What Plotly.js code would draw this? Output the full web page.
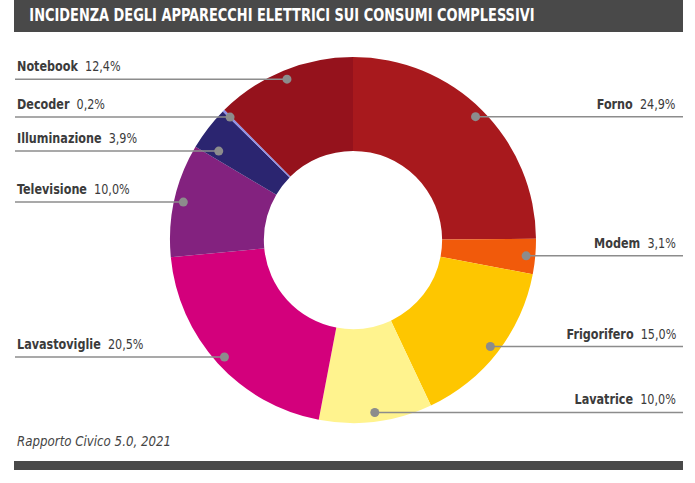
<!DOCTYPE html>
<html>
<head>
<meta charset="utf-8">
<script src="https://cdn.plot.ly/plotly-3.0.1.min.js"></script>
<style>
html,body{margin:0;padding:0;background:#fff;}
#chart{width:695px;height:483px;}
</style>
</head>
<body>
<div id="chart"></div>
<script>
// ---- data ----
var categories = ["Forno", "Modem", "Frigorifero", "Lavatrice", "Lavastoviglie", "Televisione", "Illuminazione", "Decoder", "Notebook"];
var values = [24.9, 3.1, 15.0, 10.0, 20.5, 10.0, 3.9, 0.2, 12.4];
var valueLabels = ["24,9%", "3,1%", "15,0%", "10,0%", "20,5%", "10,0%", "3,9%", "0,2%", "12,4%"];
var colors = ["#a8191d", "#f15a0b", "#fec600", "#fff38e", "#d3007c", "#83227f", "#2b2570", "#8f8fe6", "#95121c"];
var titleText = "INCIDENZA DEGLI APPARECCHI ELETTRICI SUI CONSUMI COMPLESSIVI";
var sourceText = "Rapporto Civico 5.0, 2021";

// ---- layout constants ----
var W = 695, H = 483;
var cx = 353, cy = 240, R = 183;
var FONT = "'DejaVu Sans Condensed', 'Liberation Sans Narrow', sans-serif";
var TXT = "#3b3b3b";
var BAR = "#494949";
var MIN_GAP = 34;

function px(x){ return x / W; }
function py(y){ return 1 - y / H; }

var shapes = [];
var annotations = [];
var squeeze = []; // per annotation: [scale, origin]

// title bar & bottom bar
shapes.push({type:"rect", xref:"paper", yref:"paper", x0:px(14), x1:px(683), y0:py(0), y1:py(32), fillcolor:BAR, line:{width:0}, layer:"below"});
shapes.push({type:"rect", xref:"paper", yref:"paper", x0:px(14), x1:px(683), y0:py(461), y1:py(470), fillcolor:BAR, line:{width:0}, layer:"below"});

annotations.push({xref:"paper", yref:"paper", x:px(27), y:py(14.5), xanchor:"left", yanchor:"middle", showarrow:false,
  text:"<b>"+titleText+"</b>", font:{family:FONT, size:18, color:"#ffffff"}});
squeeze.push([0.8, "left"]);
annotations.push({xref:"paper", yref:"paper", x:px(15), y:py(441), xanchor:"left", yanchor:"middle", showarrow:false,
  text:"<i>"+sourceText+"</i>", font:{family:FONT, size:14, color:"#444444"}});
squeeze.push([0.94, "left"]);

// leader lines, dots and labels derived from the data
var total = values.reduce(function(a,b){return a+b;}, 0);
var items = [];
var cum = 0;
for (var i = 0; i < values.length; i++) {
  var mid = (cum + values[i] / 2) / total * 360;
  cum += values[i];
  var th = mid * Math.PI / 180;
  items.push({i:i, th:th, right: Math.sin(th) > 0,
    dx: cx + 0.95 * R * Math.sin(th), dy: cy - 0.95 * R * Math.cos(th)});
}
// avoid overlapping labels on each side
[true, false].forEach(function(side){
  var s = items.filter(function(d){ return d.right === side; }).sort(function(a,b){ return a.dy - b.dy; });
  for (var k = 1; k < s.length; k++) {
    if (s[k].dy < s[k-1].dy + MIN_GAP) {
      var ny = s[k-1].dy + MIN_GAP;
      var r = 0.88 * R;
      var off = Math.sqrt(Math.max(0, r*r - (ny-cy)*(ny-cy)));
      s[k].dy = ny;
      s[k].dx = side ? cx + off : cx - off;
    }
  }
});

items.forEach(function(d){
  var lx0 = d.right ? d.dx : 15;
  var lx1 = d.right ? 683 : d.dx;
  shapes.push({type:"line", xref:"paper", yref:"paper", x0:px(lx0), x1:px(lx1), y0:py(d.dy), y1:py(d.dy),
    line:{color:"#8c8c8c", width:1.5}});
  shapes.push({type:"circle", xref:"paper", yref:"paper", x0:px(d.dx-4.5), x1:px(d.dx+4.5), y0:py(d.dy-4.5), y1:py(d.dy+4.5),
    fillcolor:"#8c8c8c", line:{width:0}});
  annotations.push({xref:"paper", yref:"paper", x: d.right ? px(678) : px(15), y: py(d.dy - 3),
    xanchor: d.right ? "right" : "left", yanchor:"bottom", showarrow:false,
    text:"<b>"+categories[d.i]+"</b>\u00a0\u00a0"+valueLabels[d.i],
    font:{family:FONT, size:14, color:TXT}});
  squeeze.push([0.89, d.right ? "right" : "left"]);
});

var trace = {
  type:"pie",
  labels:categories,
  values:values,
  sort:false,
  direction:"clockwise",
  rotation:0,
  hole:0.487,
  textinfo:"none",
  hoverinfo:"label+percent",
  marker:{colors:colors, line:{width:0}},
  domain:{x:[px(cx-R), px(cx+R)], y:[py(cy+R), py(cy-R)]},
  showlegend:false
};

var layout = {
  width:W, height:H,
  margin:{l:0, r:0, t:0, b:0},
  paper_bgcolor:"#ffffff",
  showlegend:false,
  shapes:shapes,
  annotations:annotations
};

Plotly.newPlot("chart", [trace], layout, {displayModeBar:false, staticPlot:true}).then(function(gd){
  // emulate the condensed typeface of the original
  var groups = gd.querySelectorAll("g.annotation");
  groups.forEach(function(g){
    var idx = +g.getAttribute("data-index");
    var t = g.querySelector("text.annotation-text");
    if (!t || !squeeze[idx]) return;
    t.style.transformBox = "fill-box";
    t.style.transformOrigin = squeeze[idx][1] + " center";
    t.style.transform = "scaleX(" + squeeze[idx][0] + ")";
  });
});
</script>
</body>
</html>
